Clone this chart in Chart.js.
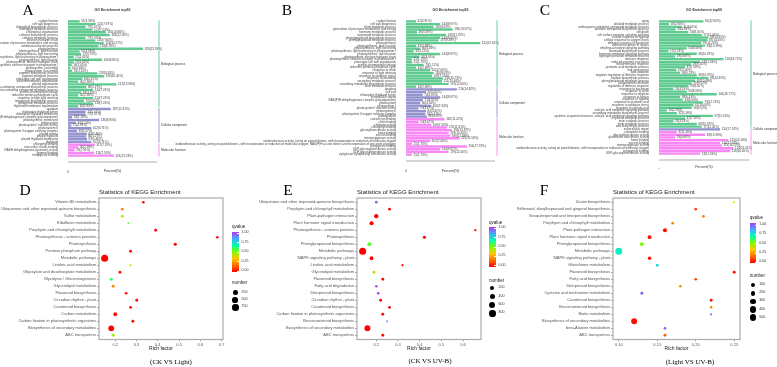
<!DOCTYPE html>
<html><head><meta charset="utf-8">
<script src="https://cdn.jsdelivr.net/npm/chart.js@4.4.1/dist/chart.umd.min.js"></script>
<style>
html,body{margin:0;padding:0;background:#fff;}
body{width:777px;height:367px;position:relative;overflow:hidden;font-family:"Liberation Sans",Arial,sans-serif;}
canvas{position:absolute;}
.abs{position:absolute;white-space:nowrap;line-height:1;}
</style>
</head><body>
<script>
// ---------------- GO enrichment data ----------------
const goGroupNames = ['Biological process','Cellular component','Molecular function'];

const goTermsA = ['carbon fixation','cell wall biogenesis','chlorophyll biosynthetic process','chlorophyll metabolic process','chloroplast organization','cofactor biosynthetic process','cofactor metabolic process','electron transport chain','generation of precursor metabolites and energy','oxidation-reduction process','photosynthesis','photosynthesis, dark reaction','photosynthesis, light harvesting','photosynthesis, light harvesting in photosystem I','photosynthesis, light reaction','photosynthetic electron transport chain','photosynthetic electron transport in photosystem I','photosystem I assembly','photosystem II assembly','pigment biosynthetic process','pigment metabolic process','plant-type cell wall organization','plastid membrane organization','plastid organization','porphyrin-containing compound biosynthetic process','porphyrin-containing compound metabolic process','protein-chromophore linkage','reductive pentose-phosphate cycle','response to high light intensity','tetrapyrrole biosynthetic process','tetrapyrrole metabolic process','thylakoid membrane organization',
 'apoplast','chloroplast thylakoid lumen','chloroplast thylakoid membrane','NAD(P)H dehydrogenase complex (plastoquinone)','photosynthetic membrane','photosystem','photosystem I reaction center','photosystem II','photosystem II oxygen evolving complex','plastid stroma','plastid thylakoid','plastid thylakoid membrane','thylakoid',
 'chlorophyll binding','iron-sulfur cluster binding','NADH dehydrogenase (quinone) activity','pigment binding','tetrapyrrole binding'];
const goCountsA = [51,121,77,107,165,183,77,120,156,133,328,51,57,25,149,25,16,10,19,128,158,63,45,212,80,110,58,45,110,70,110,44,
 187,77,77,18,136,34,15,102,39,83,80,83,102,
 117,45,29,114,201];
const goGroupSizesA = [32,13,5];
const goTotalA = 1519;

const goTermsB = ['carbon fixation','cell wall biogenesis','chitin metabolic process','generation of precursor metabolites and energy','hormone metabolic process','isoprenoid metabolic process','phenylpropanoid biosynthetic process','phenylpropanoid metabolic process','photosynthesis','photosynthesis, dark reaction','photosynthesis, light harvesting','photosynthesis, light harvesting in photosystem I','photosynthesis, light reaction','photosynthetic electron transport chain','photosynthetic electron transport in photosystem I','plant-type cell wall organization','protein-chromophore linkage','reductive pentose-phosphate cycle','response to chitin','response to light intensity','response to oxidative stress','response to wounding','secondary metabolic process','secondary metabolite biosynthetic process','toxin metabolic process',
 'apoplast','cell wall','chloroplast thylakoid lumen','extracellular region','NAD(P)H dehydrogenase complex (plastoquinone)','photosystem','photosystem I','photosystem I reaction center','photosystem II','photosystem II oxygen evolving complex','plastoglobule',
 'calcium ion binding','chitin binding','chitinase activity','chlorophyll binding','glucosyltransferase activity','heme binding','iron ion binding','monooxygenase activity','oxidoreductase activity, acting on paired donors, with incorporation or reduction of molecular oxygen','oxidoreductase activity, acting on paired donors, with incorporation or reduction of molecular oxygen, NAD(P)H as one donor, and incorporation of one atom of oxygen','tetrapyrrole binding','UDP-glucosyltransferase activity','UDP-glycosyltransferase activity','xyloglucan:xyloglucosyl transferase activity'];
const goCountsB = [42,144,116,196,46,169,144,137,312,43,60,32,144,57,25,25,74,43,102,116,109,155,151,179,43,
 214,84,70,144,71,60,106,53,84,81,88,
 162,53,106,172,193,179,186,225,102,25,256,144,179,25];
const goGroupSizesB = [25,11,14];
const goTotalB = 1444;

const goTermsC = ['aging','alkaloid metabolic process','anthocyanin-containing compound metabolic process','aromatic compound biosynthetic process','cell death','cell surface receptor signaling pathway','cellular response to hypoxia','cellular response to oxygen levels','defense response to bacterium','defense response to fungus','ethylene-activated signaling pathway','flavonoid biosynthetic process','hormone-mediated signaling pathway','hydrogen peroxide metabolic process','immune response','induced systemic resistance','innate immune response','jasmonic acid metabolic process','leaf senescence','lipid oxidation','negative regulation of defense response','oxylipin biosynthetic process','phenylpropanoid metabolic process','programmed cell death','regulation of defense response','response to bacterium','response to chitin','response to ethylene','response to fungus','response to hypoxia','response to jasmonic acid','response to oxidative stress','response to salicylic acid','salicylic acid mediated signaling pathway','secondary metabolite biosynthetic process','systemic acquired resistance, salicylic acid mediated signaling pathway','terpenoid metabolic process','toxin catabolic process','toxin metabolic process','wax biosynthetic process',
 'extracellular region',
 'calmodulin binding','glucosyltransferase activity','glutathione transferase activity','heme binding','iron ion binding','monooxygenase activity','oxidoreductase activity, acting on paired donors, with incorporation or reduction of molecular oxygen','tetrapyrrole binding','UDP-glucosyltransferase activity'];
const goCountsC = [80,18,41,30,53,77,89,87,76,83,50,17,68,29,116,74,58,47,31,38,68,89,65,59,53,26,50,104,38,43,79,62,59,14,32,97,47,26,68,77,
 110,
 32,83,29,125,110,113,134,128,74];
const goGroupSizesC = [40,1,9];
const goTotalC = 620;

// ---------------- KEGG enrichment data ----------------
const qBreaks = [1.00,0.75,0.50,0.25,0.00];

const keggPathwaysD = ['Vitamin B6 metabolism','Ubiquinone and other terpenoid-quinone biosynthesis','Sulfur metabolism','Riboflavin metabolism','Porphyrin and chlorophyll metabolism','Photosynthesis - antenna proteins','Photosynthesis','Pentose phosphate pathway','Metabolic pathways','Linoleic acid metabolism','Glyoxylate and dicarboxylate metabolism','Glycolysis / Gluconeogenesis','Glycerolipid metabolism','Flavonoid biosynthesis','Circadian rhythm - plant','Carotenoid biosynthesis','Carbon metabolism','Carbon fixation in photosynthetic organisms','Biosynthesis of secondary metabolites','ABC transporters'];
const keggRichD = [0.332,0.233,0.233,0.262,0.390,0.680,0.482,0.272,0.150,0.272,0.222,0.181,0.190,0.251,0.301,0.272,0.200,0.283,0.181,0.190];
const keggQD = [0.01,0.20,0.42,0.55,0.01,0.00,0.00,0.02,0.00,0.38,0.03,0.60,0.22,0.02,0.01,0.02,0.02,0.01,0.00,0.45];
const keggNumD = [25,30,28,8,42,20,60,40,880,9,45,50,40,30,40,35,140,45,520,42];
const richTicksD = [0.2,0.3,0.4,0.5,0.6,0.7];
const numberBreaksD = [250,500,750];

const keggPathwaysE = ['Ubiquinone and other terpenoid-quinone biosynthesis','Porphyrin and chlorophyll metabolism','Plant-pathogen interaction','Plant hormone signal transduction','Photosynthesis - antenna proteins','Photosynthesis','Phenylpropanoid biosynthesis','Metabolic pathways','MAPK signaling pathway - plant','Linoleic acid metabolism','Glycerolipid metabolism','Flavonoid biosynthesis','Fatty acid degradation','Diterpenoid biosynthesis','Circadian rhythm - plant','Carotenoid biosynthesis','Carbon fixation in photosynthetic organisms','Brassinosteroid biosynthesis','Biosynthesis of secondary metabolites','ABC transporters'];
const keggRichE = [0.200,0.261,0.200,0.178,0.657,0.422,0.168,0.137,0.178,0.321,0.189,0.230,0.200,0.209,0.220,0.261,0.230,0.250,0.159,0.230];
const keggQE = [0.95,0.01,0.00,0.00,0.00,0.00,0.55,0.00,0.00,0.02,0.38,0.01,0.95,1.00,0.01,0.01,0.02,0.85,0.00,0.02];
const keggNumE = [30,35,210,170,15,60,150,900,130,15,45,40,30,25,40,35,45,10,560,45];
const richTicksE = [0.2,0.3,0.4,0.5,0.6];
const numberBreaksE = [200,400,600,800];

const keggPathwaysF = ['Zeatin biosynthesis','Stilbenoid, diarylheptanoid and gingerol biosynthesis','Sesquiterpenoid and triterpenoid biosynthesis','Porphyrin and chlorophyll metabolism','Plant-pathogen interaction','Plant hormone signal transduction','Phenylpropanoid biosynthesis','Metabolic pathways','MAPK signaling pathway - plant','Glutathione metabolism','Flavonoid biosynthesis','Fatty acid biosynthesis','Diterpenoid biosynthesis','Cysteine and methionine metabolism','Carotenoid biosynthesis','Brassinosteroid biosynthesis','Biotin metabolism','Biosynthesis of secondary metabolites','beta-Alanine metabolism','ABC transporters'];
const keggRichF = [0.25,0.20,0.21,0.17,0.16,0.14,0.13,0.10,0.14,0.15,0.25,0.20,0.18,0.13,0.22,0.22,0.22,0.12,0.16,0.16];
const keggQF = [0.40,0.10,0.18,0.22,0.02,0.02,0.50,0.70,0.02,0.75,0.02,0.10,0.22,0.95,0.03,0.20,0.92,0.02,0.92,0.15];
const keggNumF = [6,20,15,20,105,82,80,560,58,25,30,20,15,30,25,12,8,350,20,25];
const richTicksF = [0.10,0.15,0.20,0.25];
const numberBreaksF = [100,200,300,400,500];

// ---------------- styling ----------------
Chart.defaults.font.family = '"Liberation Sans", Arial, sans-serif';
const GROUP_COLORS = ['#5FCB90','#9393CF','#F788F5'];
const Q_STOPS = [[0,[255,0,0]],[1/6,[255,106,0]],[2/6,[255,200,0]],[0.5,[124,252,0]],[4/6,[0,255,176]],[5/6,[68,170,255]],[1,[178,58,238]]];
function qColor(q){
  for (let i=1;i<Q_STOPS.length;i++){
    const [p1,c1]=Q_STOPS[i-1],[p2,c2]=Q_STOPS[i];
    if (q<=p2){const t=(q-p1)/(p2-p1);return 'rgb('+c1.map((c,k)=>Math.round(c+(c2[k]-c)*t)).join(',')+')';}
  }
  return 'rgb(178,58,238)';
}
const R_MIN = 0.95, R_MAX = 3.5;

function addCanvas(left, top, w, h){
  const c=document.createElement('canvas');
  c.width=w;c.height=h;c.style.left=left+'px';c.style.top=top+'px';c.style.width=w+'px';c.style.height=h+'px';
  document.body.appendChild(c);return c;
}
function addText(x,y,text,style,anchor){
  const d=document.createElement('div');d.className='abs';d.textContent=text;
  Object.assign(d.style,style);d.style.left=x+'px';d.style.top=y+'px';
  d.style.transform = anchor==='center'?'translate(-50%,-50%)':'translate(0,-50%)';
  document.body.appendChild(d);return d;
}

// ---------------- GO bar chart ----------------
function goChart(o){
  const {left,width,height,aL,aR,aT,aB,xh,terms,counts,groups,total,xmax} = o;
  const colors=[];groups.forEach((g,gi)=>{for(let k=0;k<g;k++)colors.push(GROUP_COLORS[gi]);});
  const cv=addCanvas(left,0,width,height);
  const deco={id:'goDeco',afterDatasetsDraw(chart){
    const {ctx,chartArea:a}=chart;const meta=chart.getDatasetMeta(0);const xs=chart.scales.x;
    const n=counts.length;const ch=(a.bottom-a.top)/n;
    ctx.save();
    ctx.strokeStyle='#d6d6d6';ctx.lineWidth=1.8;ctx.beginPath();
    ctx.moveTo(xs.getPixelForValue(0),a.bottom+5);ctx.lineTo(a.right,a.bottom+5);ctx.stroke();
    ctx.font='3px "Liberation Sans", Arial';ctx.textBaseline='middle';ctx.textAlign='left';
    meta.data.forEach((bar,i)=>{
      const v=counts[i];const t=v+'('+(v/total*100).toFixed(2)+'%)';
      const w=ctx.measureText(t).width;
      ctx.fillStyle='#ffffff';ctx.fillRect(bar.x+1,bar.y-1.3,w+1.2,2.6);
      ctx.fillStyle='#3a3a3a';ctx.fillText(t,bar.x+1.6,bar.y+0.1);
    });
    let s=0;ctx.font='3px "Liberation Sans", Arial';
    groups.forEach((g,gi)=>{
      const y1=meta.data[s].y-ch/2, y2=meta.data[s+g-1].y+ch/2;
      ctx.strokeStyle=GROUP_COLORS[gi];ctx.lineWidth=0.9;ctx.beginPath();
      ctx.moveTo(a.right+2,y1+0.4);ctx.lineTo(a.right+2,y2-0.4);ctx.stroke();
      ctx.fillStyle='#333';ctx.fillText(goGroupNames[gi],a.right+4,(y1+y2)/2);
      s+=g;
    });
    ctx.font='bold 3.5px "Liberation Sans", Arial';ctx.textAlign='center';ctx.fillStyle='#333';
    ctx.fillText('GO Enrichment top50',(a.left+a.right)/2,10);
    ctx.restore();
  }};
  new Chart(cv,{type:'bar',
    data:{labels:terms,datasets:[{data:counts,backgroundColor:colors,borderWidth:0,barPercentage:0.88,categoryPercentage:1}]},
    options:{indexAxis:'y',responsive:false,animation:false,devicePixelRatio:1,events:[],
      layout:{padding:{left:0,top:aT,right:width-aR,bottom:height-aB-xh}},
      plugins:{legend:{display:false},tooltip:{enabled:false},title:{display:false}},
      scales:{
        x:{min:0,max:xmax,afterBuildTicks:s=>{s.ticks=[{value:0}];},afterFit:s=>{s.height=xh;},
           grid:{display:false},border:{display:false},
           ticks:{font:{size:3},color:'#333',padding:5},
           title:{display:true,text:'Percent(%)',font:{size:3.5},color:'#333',padding:0}},
        y:{afterFit:s=>{s.width=aL;},grid:{display:false},border:{display:false},
           ticks:{autoSkip:false,font:{size:3},color:'#444',padding:2}}
      }},
    plugins:[deco]});
}

goChart({left:0,width:240,height:178,aL:68,aR:157,aT:20,aB:157,xh:16,terms:goTermsA,counts:goCountsA,groups:goGroupSizesA,total:goTotalA,xmax:389});
goChart({left:150,width:385,height:178,aL:256,aR:345,aT:20,aB:156,xh:17,terms:goTermsB,counts:goCountsB,groups:goGroupSizesB,total:goTotalB,xmax:374});
goChart({left:500,width:277,height:178,aL:159,aR:249,aT:20,aB:155,xh:14,terms:goTermsC,counts:goCountsC,groups:goGroupSizesC,total:goTotalC,xmax:162});

// ---------------- KEGG bubble chart ----------------
function keggChart(o){
  const {left,width,aL,aR,paths,rich,q,num,xmin,xmax,ticks,dec,leg} = o;
  const top=175,height=192,aT=23,aB=164.5,xh=12.5;
  const n=paths.length;
  const nMin=Math.min(...num),nMax=Math.max(...num);
  const rad=v=>R_MIN+(R_MAX-R_MIN)*Math.sqrt(Math.max(0,(v-nMin))/(nMax-nMin));
  const data=paths.map((p,i)=>({x:rich[i],y:n-i,r:rad(num[i])}));
  const colors=q.map(qColor);
  const cv=addCanvas(left,top,width,height);
  const frame={id:'frame',afterDatasetsDraw(chart){const {ctx,chartArea:a}=chart;ctx.save();ctx.strokeStyle='#ababab';ctx.lineWidth=1.2;ctx.strokeRect(a.left,a.top,a.right-a.left,a.bottom-a.top);ctx.restore();}};
  new Chart(cv,{type:'bubble',
    data:{datasets:[{data,backgroundColor:colors,borderWidth:0}]},
    options:{responsive:false,animation:false,devicePixelRatio:1,events:[],
      layout:{padding:{left:0,top:aT,right:width-aR,bottom:height-aB-xh}},
      plugins:{legend:{display:false},tooltip:{enabled:false}},
      scales:{
        x:{type:'linear',min:xmin,max:xmax,bounds:'data',
           afterBuildTicks:s=>{s.ticks=ticks.map(v=>({value:v}));},afterFit:s=>{s.height=xh;},
           ticks:{callback:v=>v.toFixed(dec),font:{size:4},color:'#555',padding:1,autoSkip:false,maxRotation:0},
           grid:{display:true,drawOnChartArea:false,drawTicks:true,tickLength:2,color:'#555',lineWidth:0.5},
           border:{display:false},
           title:{display:true,text:'Rich factor',font:{size:5},color:'#1a1a1a',padding:0}},
        y:{type:'linear',min:0.4,max:n+0.6,bounds:'data',
           afterBuildTicks:s=>{s.ticks=paths.map((p,i)=>({value:n-i}));},afterFit:s=>{s.width=aL;},
           ticks:{callback:v=>paths[n-v],autoSkip:false,font:{size:4},color:'#555',padding:1},
           grid:{display:true,drawOnChartArea:false,drawTicks:true,tickLength:2,color:'#555',lineWidth:0.5},
           border:{display:false}}
      }},
    plugins:[frame]});
  addText(left+aL,192,'Statistics of KEGG Enrichment',{fontSize:'6px',color:'#1a1a1a'},'left');
  addText(leg.x,leg.qTitleY,'qvalue',{fontSize:'4.5px',color:'#1a1a1a'},'left');
  const g=document.createElement('div');g.className='abs';
  const grad=Q_STOPS.map(([p,c])=>'rgb('+c.join(',')+') '+(p*100).toFixed(1)+'%').join(',');
  Object.assign(g.style,{left:leg.x+'px',top:(leg.gTop)+'px',width:'6.5px',height:(leg.gBot-leg.gTop)+'px',background:'linear-gradient(to top,'+grad+')'});
  document.body.appendChild(g);
  qBreaks.forEach(v=>{
    const y=leg.y0+(leg.y1-leg.y0)*(1-v);
    addText(leg.x+9.5,y,v.toFixed(2),{fontSize:'3.6px',color:'#333'},'left');
    const t=document.createElement('div');t.className='abs';
    Object.assign(t.style,{left:(leg.x+5)+'px',top:(y-0.25)+'px',width:'1.5px',height:'0.5px',background:'#fff'});
    document.body.appendChild(t);
  });
  addText(leg.x,leg.nTitleY,'number',{fontSize:'4.5px',color:'#1a1a1a'},'left');
  leg.breaks.forEach((v,i)=>{
    const y=leg.nY+i*leg.nStep;const r=rad(v);
    const d=document.createElement('div');d.className='abs';
    Object.assign(d.style,{left:(leg.x+3.3-r)+'px',top:(y-r)+'px',width:(2*r)+'px',height:(2*r)+'px',borderRadius:'50%',background:'#000'});
    document.body.appendChild(d);
    addText(leg.x+9.5,y,String(v),{fontSize:'3.6px',color:'#333'},'left');
  });
}

keggChart({left:0,width:230,aL:99,aR:223,paths:keggPathwaysD,rich:keggRichD,q:keggQD,num:keggNumD,xmin:0.1235,xmax:0.7065,ticks:richTicksD,dec:1,
  leg:{x:232,qTitleY:227,gTop:231.5,gBot:272,y0:233,y1:271,nTitleY:283,nY:292.7,nStep:7.3,breaks:numberBreaksD}});
keggChart({left:245,width:240,aL:112,aR:236,paths:keggPathwaysE,rich:keggRichE,q:keggQE,num:keggNumE,xmin:0.111,xmax:0.683,ticks:richTicksE,dec:1,
  leg:{x:489,qTitleY:222.7,gTop:227,gBot:267,y0:228.3,y1:265.7,nTitleY:280.7,nY:288.3,nStep:8.33,breaks:numberBreaksE}});
keggChart({left:505,width:240,aL:108,aR:235,paths:keggPathwaysF,rich:keggRichF,q:keggQF,num:keggNumF,xmin:0.0925,xmax:0.2575,ticks:richTicksF,dec:2,
  leg:{x:749.7,qTitleY:218.3,gTop:223.3,gBot:263.3,y0:225,y1:262.3,nTitleY:276,nY:285,nStep:8.2,breaks:numberBreaksF}});

const serif={fontFamily:'"Liberation Serif","Times New Roman",serif',color:'#000'};
[['A',28,10],['B',287,10],['C',545,10],['D',25,190],['E',288,190],['F',544,190]].forEach(([t,x,y])=>addText(x,y,t,Object.assign({fontSize:'15.5px'},serif),'center'));
[['(CK VS Light)',171,361.5],['(CK VS UV-B)',430,360.5],['(Light VS UV-B)',690,362]].forEach(([t,x,y])=>addText(x,y,t,Object.assign({fontSize:'7px'},serif),'center'));
</script>
</body></html>
